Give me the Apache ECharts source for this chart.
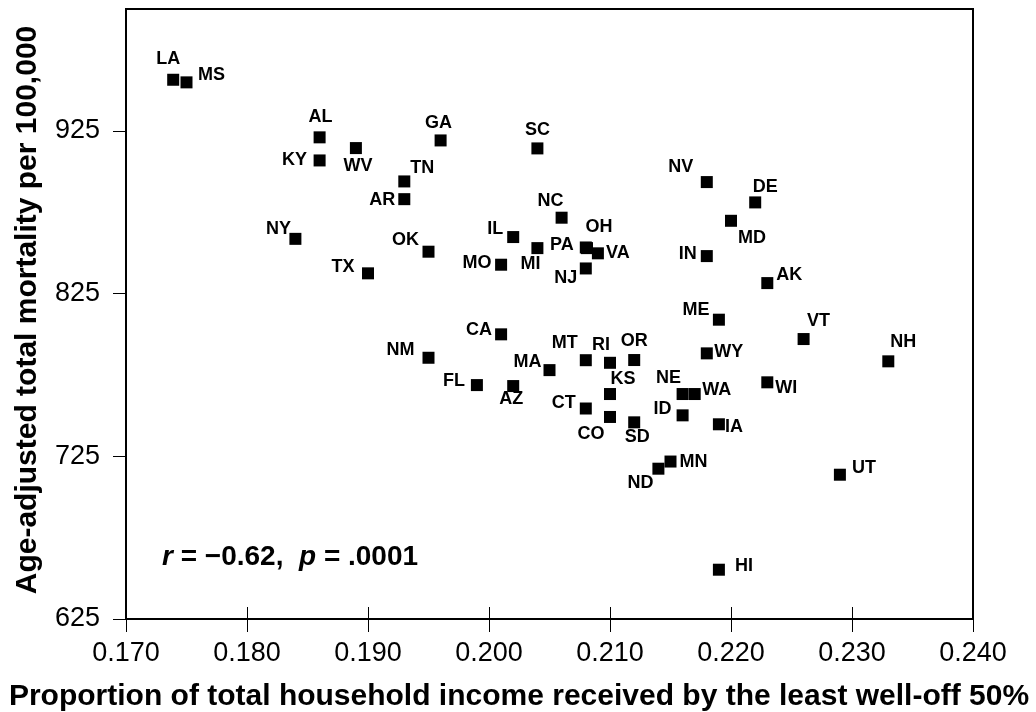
<!DOCTYPE html>
<html>
<head>
<meta charset="utf-8">
<title>Income share and mortality by state</title>
<script src="https://cdn.jsdelivr.net/npm/echarts@6/dist/echarts.min.js"></script>
<style>
  html, body { margin: 0; background: #fff; }
  #chart { width: 1036px; height: 712px; }
</style>
</head>
<body>
<div id="chart"></div>
<script>
  // data
  const states = ['LA', 'MS', 'AL', 'KY', 'WV', 'TN', 'AR', 'NY', 'TX', 'GA',
    'SC', 'OK', 'NC', 'IL', 'MI', 'MO', 'PA', 'OH', 'VA', 'NJ',
    'NV', 'IN', 'DE', 'MD', 'AK', 'ME', 'VT', 'NH', 'WY', 'WI',
    'WA', 'NE', 'CA', 'NM', 'MT', 'MA', 'FL', 'AZ', 'CT', 'RI',
    'OR', 'KS', 'CO', 'SD', 'ID', 'IA', 'MN', 'ND', 'UT', 'HI'];
  const incomeShare = [0.1739, 0.1750, 0.1860, 0.1860, 0.1890, 0.1930, 0.1930, 0.1840, 0.1900, 0.1960,
    0.2040, 0.1950, 0.2060, 0.2020, 0.2040, 0.2010, 0.2080, 0.2081, 0.2090, 0.2080,
    0.2180, 0.2180, 0.2220, 0.2200, 0.2230, 0.2190, 0.2260, 0.2330, 0.2180, 0.2230,
    0.2170, 0.2160, 0.2010, 0.1950, 0.2080, 0.2050, 0.1990, 0.2020, 0.2080, 0.2100,
    0.2120, 0.2100, 0.2100, 0.2120, 0.2160, 0.2190, 0.2150, 0.2140, 0.2290, 0.2190];
  const mortality = [956.5, 954.9, 921.1, 906.9, 914.5, 894.0, 883.1, 858.7, 837.5, 919.2,
    914.3, 850.8, 871.7, 859.8, 853.0, 842.8, 853.4, 853.0, 849.8, 840.5,
    893.6, 848.1, 881.1, 869.8, 831.5, 809.0, 797.1, 783.4, 788.3, 770.5,
    763.3, 763.3, 800.0, 785.6, 784.1, 778.0, 768.8, 768.2, 754.4, 782.5,
    784.2, 763.3, 749.2, 745.9, 750.2, 744.7, 721.8, 717.4, 713.7, 655.3];
  const xTicks = [0.17, 0.18, 0.19, 0.20, 0.21, 0.22, 0.23, 0.24];
  const yTicks = [625, 725, 825, 925];

  // where each state code sits relative to its marker (px)
  const labelOffset = {
    LA: [-5, -21], MS: [25, -7], AL: [1, -20], KY: [-25, 0], WV: [2, 18],
    TN: [18, -13], AR: [-22, 1], NY: [-17, -10], TX: [-25, -6], GA: [-2, -17],
    SC: [0, -18], OK: [-23, -12], NC: [-11, -17], IL: [-18, -8], MI: [-7, 16],
    MO: [-24, -2], PA: [-24, -2], OH: [12, -21], VA: [20, 0], NJ: [-20, 10],
    NV: [-26, -15], IN: [-19, -2], DE: [10, -15], MD: [21, 17], AK: [22, -8],
    ME: [-23, -10], VT: [15, -18], NH: [15, -19], WY: [22, -1], WI: [19, 6],
    WA: [22, -4], NE: [-14, -16], CA: [-22, -4], NM: [-28, -8], MT: [-21, -17],
    MA: [-22, -8], FL: [-23, -4], AZ: [-2, 13], CT: [-22, -5], RI: [-9, -18],
    OR: [0, -19], KS: [13, -15], CO: [-19, 17], SD: [3, 15], ID: [-20, -6],
    IA: [15, 3], MN: [23, 0], ND: [-18, 14], UT: [24, -7], HI: [25, -4]
  };

  const font = '"Liberation Sans", Arial, Helvetica, sans-serif';
  const chart = echarts.init(document.getElementById('chart'));

  const points = states.map((s, i) => ({
    name: s,
    value: [incomeShare[i], mortality[i]],
    label: { offset: labelOffset[s] }
  }));

  const xRange = { type: 'value', min: xTicks[0], max: xTicks[xTicks.length - 1], interval: 0.01 };

  chart.setOption({
    animation: false,
    grid: {
      left: 126, right: 63, top: 9, bottom: 93,
      show: true, borderColor: '#000', borderWidth: 2,
      outerBoundsMode: 'none'
    },
    title: {
      text: '{i|r} = \u22120.62,  {i|p} = .0001',
      left: 157, top: 538,
      textStyle: {
        fontFamily: font, fontSize: 28, fontWeight: 'bold', color: '#000',
        rich: { i: { fontFamily: font, fontSize: 28, fontWeight: 'bold', fontStyle: 'italic', color: '#000' } }
      }
    },
    xAxis: [
      Object.assign({}, xRange, {
        position: 'bottom',
        axisLine: { onZero: false, lineStyle: { color: '#000', width: 2 } },
        axisTick: { length: 13, lineStyle: { color: '#000', width: 1 } },
        axisLabel: {
          color: '#000', fontFamily: font, fontSize: 27, margin: 21,
          formatter: v => v.toFixed(3)
        },
        splitLine: { show: false },
        name: 'Proportion of total household income received by the least well-off 50%',
        nameLocation: 'middle', nameGap: 63,
        nameTextStyle: {
          color: '#000', fontFamily: font, fontSize: 30, fontWeight: 'bold',
          padding: [0, 61, 0, 0]
        }
      }),
      Object.assign({}, xRange, {
        position: 'bottom',
        axisLine: { show: false, onZero: false },
        axisTick: { inside: true, length: 12, lineStyle: { color: '#000', width: 1 } },
        axisLabel: { show: false },
        splitLine: { show: false }
      })
    ],
    yAxis: {
      type: 'value', min: 625, max: 1000, interval: 100,
      axisLine: { onZero: false, lineStyle: { color: '#000', width: 2 } },
      axisTick: { length: 13, customValues: yTicks, lineStyle: { color: '#000', width: 1 } },
      axisLabel: { color: '#000', fontFamily: font, fontSize: 27, margin: 26, customValues: yTicks },
      splitLine: { show: false },
      name: 'Age-adjusted total mortality per 100,000',
      nameLocation: 'middle', nameGap: 83,
      nameTextStyle: { color: '#000', fontFamily: font, fontSize: 30, fontWeight: 'bold', padding: [0, 0, 0, 8] }
    },
    series: [{
      type: 'scatter',
      xAxisIndex: 0,
      symbol: 'rect',
      symbolSize: 12,
      itemStyle: { color: '#000', opacity: 1 },
      label: {
        show: true, position: 'inside', formatter: '{b}',
        color: '#000', fontFamily: font, fontSize: 18, fontWeight: 'bold'
      },
      emphasis: { disabled: true },
      data: points
    }]
  });
</script>
</body>
</html>
